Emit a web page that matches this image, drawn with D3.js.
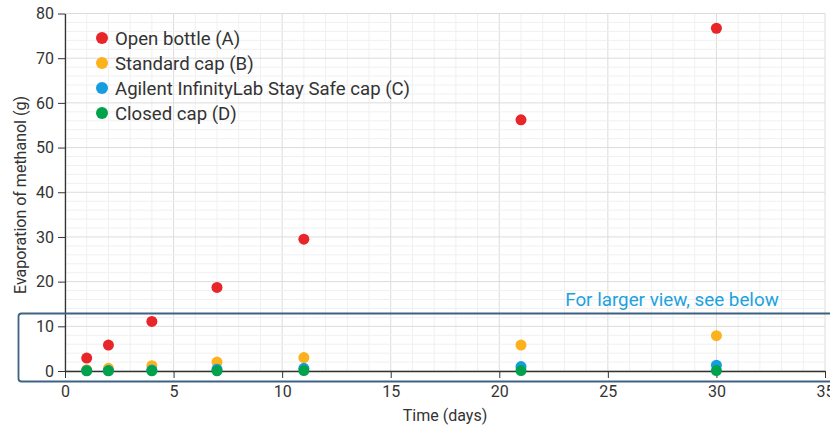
<!DOCTYPE html>
<html lang="en">
    <head>
        <meta charset="UTF-8" />
        <title>Evaporation of methanol</title>
        <style>
            body {
                margin: 0;
                background: #fff;
            }
            text {
                font-family: Roboto, 'Noto Sans', sans-serif;
                fill: #333;
            }
            .tick text {
                font-size: 16px;
            }
        </style>
    </head>
    <body>
        <svg width="830" height="425"></svg>
        <script src="https://d3js.org/d3.v7.min.js"></script>
        <script>
            const days = [1, 2, 4, 7, 11, 21, 30];
            const openBottle = [2.9, 5.8, 11.1, 18.7, 29.5, 56.2, 76.7];
            const standardCap = [0.3, 0.6, 1.2, 2.0, 3.0, 5.8, 7.9];
            const staySafeCap = [0.1, 0.1, 0.2, 0.4, 0.6, 1.0, 1.3];
            const closedCap = [0.05, 0.05, 0.05, 0.05, 0.1, 0.1, 0.1];

            const seriesNames = ['Open bottle (A)', 'Standard cap (B)', 'Agilent InfinityLab Stay Safe cap (C)', 'Closed cap (D)'];
            const seriesValues = [openBottle, standardCap, staySafeCap, closedCap];
            const colors = ['#e8262a', '#fbb21c', '#169ddf', '#00a24c'];

            const xTicks = [0, 5, 10, 15, 20, 25, 30, 35];
            const yTicks = [0, 10, 20, 30, 40, 50, 60, 70, 80];

            const svg = d3.select('svg');
            const margin = { left: 65, right: 5, top: 13.5, bottom: 54 };
            const width = 830 - margin.left - margin.right;
            const height = 425 - margin.top - margin.bottom;

            const x = d3.scaleLinear().domain([0, 35]).range([margin.left, margin.left + width]);
            const y = d3.scaleLinear().domain([0, 80]).range([margin.top + height, margin.top]);

            // minor + major grid
            const grid = svg.append('g');
            grid.selectAll('.minor-x')
                .data(d3.range(0, 36, 1))
                .enter()
                .append('line')
                .attr('x1', (d) => x(d))
                .attr('x2', (d) => x(d))
                .attr('y1', y(0))
                .attr('y2', y(80))
                .attr('stroke', (d) => (d % 5 === 0 ? '#dcdcdc' : '#f0f0f0'))
                .attr('stroke-width', 1);
            grid.selectAll('.minor-y')
                .data(d3.range(0, 81, 2))
                .enter()
                .append('line')
                .attr('x1', x(0))
                .attr('x2', x(35))
                .attr('y1', (d) => y(d))
                .attr('y2', (d) => y(d))
                .attr('stroke', (d) => (d % 10 === 0 ? '#dcdcdc' : '#f0f0f0'))
                .attr('stroke-width', 1);

            // axes
            const xAxis = svg
                .append('g')
                .attr('transform', `translate(0,${y(0)})`)
                .call(d3.axisBottom(x).tickValues(xTicks).tickSize(7).tickSizeOuter(0).tickPadding(8));
            const yAxis = svg
                .append('g')
                .attr('transform', `translate(${x(0)},0)`)
                .call(d3.axisLeft(y).tickValues(yTicks).tickSize(7).tickSizeOuter(0).tickPadding(4));
            [xAxis, yAxis].forEach((a) => {
                a.select('.domain').attr('stroke', '#333').attr('stroke-width', 1.3);
                a.selectAll('.tick line').attr('stroke', '#333');
                a.selectAll('.tick text').attr('fill', '#333');
            });

            svg.append('text')
                .attr('x', 445)
                .attr('y', 421)
                .attr('text-anchor', 'middle')
                .style('font-size', '16px')
                .text('Time (days)');

            svg.append('text')
                .attr('transform', `translate(26,${195}) rotate(-90)`)
                .attr('text-anchor', 'middle')
                .style('font-size', '16px')
                .text('Evaporation of methanol (g)');

            // points
            seriesValues.forEach((vals, i) => {
                svg.append('g')
                    .selectAll('circle')
                    .data(vals)
                    .enter()
                    .append('circle')
                    .attr('cx', (d, j) => x(days[j]))
                    .attr('cy', (d) => y(d))
                    .attr('r', 5.5)
                    .attr('fill', colors[i]);
            });

            // highlight box around the low range
            svg.append('rect')
                .attr('x', 18.5)
                .attr('y', 313.5)
                .attr('width', 830)
                .attr('height', 68)
                .attr('rx', 3)
                .attr('fill', 'none')
                .attr('stroke', '#3d6283')
                .attr('stroke-width', 1.8);

            svg.append('text')
                .attr('x', 672)
                .attr('y', 306)
                .attr('text-anchor', 'middle')
                .style('font-size', '18.8px')
                .style('fill', '#1ca2e0')
                .text('For larger view, see below');

            // legend
            const legend = svg
                .append('g')
                .selectAll('g')
                .data(seriesNames)
                .enter()
                .append('g')
                .attr('transform', (d, i) => `translate(102,${38 + i * 25})`);
            legend.append('circle').attr('r', 6).attr('fill', (d, i) => colors[i]);
            legend
                .append('text')
                .attr('x', 13)
                .attr('dy', '0.35em')
                .style('font-size', '18.6px')
                .text((d) => d);
        </script>
    </body>
</html>
